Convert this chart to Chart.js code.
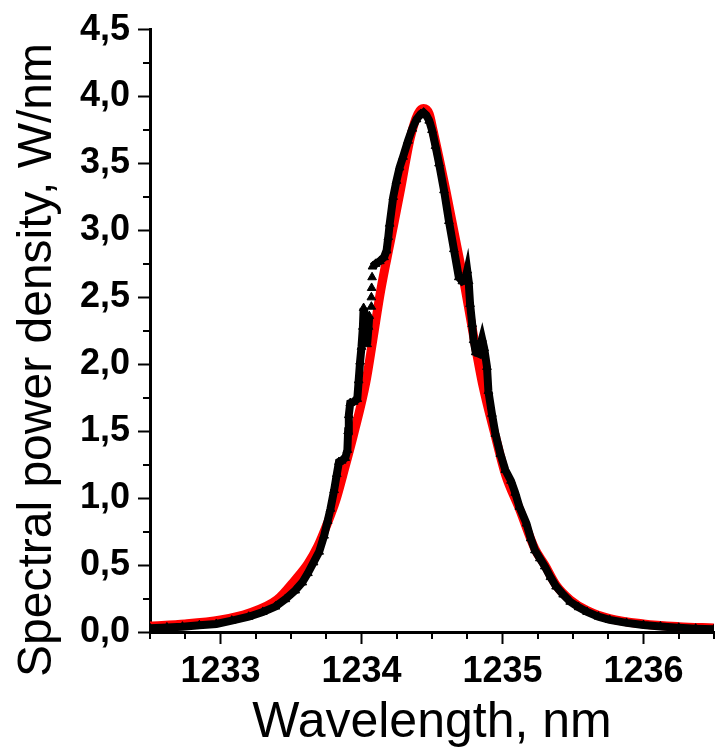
<!DOCTYPE html>
<html>
<head>
<meta charset="utf-8">
<script src="https://cdn.jsdelivr.net/npm/chart.js@4"></script>
<style>
  body { margin: 0; background: #fff; }
  #wrap { width: 720px; height: 754px; }
</style>
</head>
<body>
<div id="wrap"><canvas id="spectrum" width="720" height="754"></canvas></div>
<script>
// measured spectrum (black triangles), null = gap in the trace
const measX = [
  1232.50, 1232.62, 1232.73, 1232.85, 1232.97, 1233.08, 1233.20, 1233.30, 1233.39, 1233.46,
  1233.53, 1233.58, 1233.62, 1233.66, 1233.70, 1233.735, 1233.76, 1233.78, 1233.806, 1233.825,
  1233.84, 1233.86, 1233.885, 1233.90, 1233.905, 1233.91, 1233.92, 1233.945, 1233.97, 1233.98,
  1233.99, 1234.00, 1234.01, 1234.015, 1234.03, 1234.04, 1234.05, 1234.055, 1234.06,
  1234.07, 1234.07, 1234.07, 1234.071, 1234.072, 1234.073, 1234.075, 1234.076,
  1234.078, 1234.10, 1234.13, 1234.16, 1234.178, 1234.19, 1234.20, 1234.225, 1234.248, 1234.27,
  1234.295, 1234.33, 1234.36, 1234.39, 1234.42, 1234.44, 1234.46, 1234.48, 1234.50, 1234.525,
  1234.55, 1234.585, 1234.62, 1234.655, 1234.69, 1234.715, 1234.735, 1234.75, 1234.76, 1234.77,
  1234.785, 1234.795, 1234.81, 1234.83, 1234.845, 1234.855, 1234.87, 1234.89, 1234.90, 1234.925,
  1234.95, 1234.985, 1235.02, 1235.06, 1235.09, 1235.12, 1235.17, 1235.20, 1235.23, 1235.265,
  1235.30, 1235.34, 1235.38, 1235.43, 1235.48, 1235.54, 1235.60, 1235.68, 1235.76, 1235.88,
  1236.00, 1236.12, 1236.25, 1236.37, 1236.50
];
const measY = [
  0.028, 0.034, 0.040, 0.050, 0.060, 0.085, 0.114, 0.150, 0.190, 0.245,
  0.310, 0.370, 0.440, 0.520, 0.600, 0.720, 0.830, 0.920, 1.060, 1.180,
  1.270, 1.280, 1.300, 1.360, 1.500, 1.620, 1.710, 1.720, 1.740, 1.880,
  2.020, 2.130, 2.280, 2.420, 2.300, 2.150, 2.280, 2.360, null,
  2.430, null, 2.500, null, 2.570, null, 2.650, null,
  2.730, 2.750, 2.770, 2.800, 2.850, 2.950, 3.050, 3.250, 3.370, 3.470,
  3.550, 3.670, 3.760, 3.830, 3.870, 3.880, 3.860, 3.820, 3.750, 3.630,
  3.500, 3.300, 3.070, 2.860, 2.650, 2.620, 2.630, 2.700, 2.620, 2.450,
  2.300, 2.180, 2.090, 2.080, 2.150, 2.190, 2.120, 1.980, 1.800, 1.630,
  1.480, 1.330, 1.210, 1.130, 1.040, 0.935, 0.810, 0.700, 0.610, 0.550,
  0.490, 0.410, 0.340, 0.280, 0.226, 0.185, 0.150, 0.115, 0.090, 0.068,
  0.052, 0.041, 0.032, 0.025, 0.020
];

// fitted curve (red)
const fitX = [
  1232.50, 1232.75, 1233.00, 1233.20, 1233.40, 1233.53, 1233.62, 1233.69, 1233.75, 1233.82,
  1233.88, 1233.945, 1234.03, 1234.08, 1234.136, 1234.206, 1234.276, 1234.346, 1234.40, 1234.44,
  1234.48, 1234.507, 1234.598, 1234.668, 1234.738, 1234.80, 1234.857, 1234.95, 1235.02, 1235.12,
  1235.23, 1235.30, 1235.38, 1235.48, 1235.60, 1235.76, 1236.00, 1236.25, 1236.50
];
const fitY = [
  0.045, 0.060, 0.090, 0.140, 0.240, 0.390, 0.510, 0.640, 0.790, 0.990,
  1.220, 1.480, 1.860, 2.180, 2.550, 2.925, 3.300, 3.690, 3.870, 3.910,
  3.870, 3.750, 3.300, 2.925, 2.550, 2.180, 1.860, 1.460, 1.180, 0.920,
  0.620, 0.500, 0.350, 0.240, 0.160, 0.100, 0.060, 0.040, 0.030
];

const xTickValues = [1233, 1234, 1235, 1236];
const xTickLabels = ['1233', '1234', '1235', '1236'];
const yTickLabels = ['0,0', '0,5', '1,0', '1,5', '2,0', '2,5', '3,0', '3,5', '4,0', '4,5'];

const FONT = '"Liberation Sans", Arial, sans-serif';

// short ticks between the labelled ones, plus the rotated y title
const extrasPlugin = {
  id: 'extras',
  afterDraw(chart) {
    const ctx = chart.ctx;
    const xs = chart.scales.x, ys = chart.scales.y;
    const area = chart.chartArea;
    ctx.save();
    ctx.strokeStyle = '#000';
    ctx.lineWidth = 2;
    ctx.beginPath();
    for (let v = 0.25; v < 4.5; v += 0.5) {
      const py = Math.round(ys.getPixelForValue(v));
      ctx.moveTo(area.left - 7, py);
      ctx.lineTo(area.left, py);
    }
    for (let v = 1232.5; v <= 1236.5; v += 0.25) {
      if (Math.abs(v - Math.round(v)) < 0.01) continue;
      const px = Math.round(xs.getPixelForValue(v));
      ctx.moveTo(px, area.bottom);
      ctx.lineTo(px, area.bottom + 7);
    }
    ctx.stroke();

    ctx.fillStyle = '#000';
    ctx.font = '48px ' + FONT;
    ctx.textAlign = 'center';
    ctx.textBaseline = 'alphabetic';
    ctx.translate(51, 360);
    ctx.rotate(-Math.PI / 2);
    ctx.fillText('Spectral power density, W/nm', 0, 0);
    ctx.restore();
  }
};

new Chart(document.getElementById('spectrum'), {
  type: 'line',
  data: {
    datasets: [
      {
        label: 'measured',
        data: measX.map((x, i) => ({ x: x, y: measY[i] })),
        borderColor: '#000',
        borderWidth: 8,
        pointStyle: 'triangle',
        pointRadius: 5,
        pointBackgroundColor: '#000',
        pointBorderColor: '#000',
        pointBorderWidth: 1,
        tension: 0,
        spanGaps: false
      },
      {
        label: 'fit',
        data: fitX.map((x, i) => ({ x: x, y: fitY[i] })),
        borderColor: '#ff0000',
        borderWidth: 9,
        pointRadius: 0,
        cubicInterpolationMode: 'monotone'
      }
    ]
  },
  options: {
    responsive: false,
    animation: false,
    layout: { padding: { top: 29, right: 0, bottom: 0, left: 0 } },
    plugins: { legend: { display: false }, tooltip: { enabled: false } },
    scales: {
      x: {
        type: 'linear',
        min: 1232.5,
        max: 1236.5,
        afterBuildTicks: s => { s.ticks = xTickValues.map(v => ({ value: v })); },
        afterFit: s => { s.height = 122; },
        ticks: {
          color: '#000',
          padding: 6,
          maxRotation: 0,
          font: { family: FONT, size: 36, weight: 'bold' },
          callback: (v, i) => xTickLabels[i]
        },
        grid: { drawOnChartArea: false, tickLength: 12, tickWidth: 2, tickColor: '#000' },
        border: { color: '#000', width: 3 },
        title: {
          display: true,
          text: 'Wavelength, nm',
          color: '#000',
          font: { family: FONT, size: 50 },
          padding: { top: 0, bottom: 1 }
        }
      },
      y: {
        min: 0,
        max: 4.5,
        afterFit: s => { s.width = 150; },
        ticks: {
          stepSize: 0.5,
          color: '#000',
          padding: 8,
          font: { family: FONT, size: 36, weight: 'bold' },
          callback: (v, i) => yTickLabels[i]
        },
        grid: { drawOnChartArea: false, tickLength: 12, tickWidth: 2, tickColor: '#000' },
        border: { color: '#000', width: 3 }
      }
    }
  },
  plugins: [extrasPlugin]
});
</script>
</body>
</html>
